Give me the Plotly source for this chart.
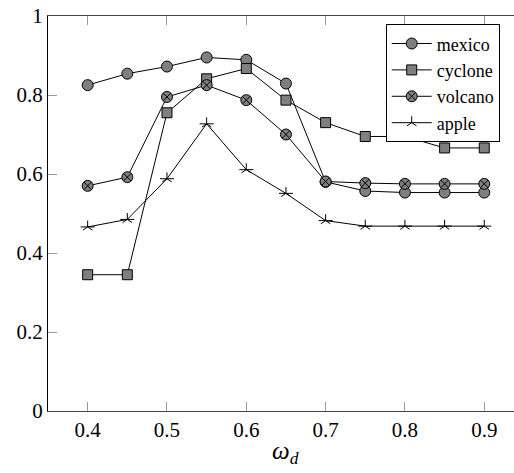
import plotly.graph_objects as go

omega = [0.4, 0.45, 0.5, 0.55, 0.6, 0.65, 0.7, 0.75, 0.8, 0.85, 0.9]
mexico = [0.825, 0.854, 0.872, 0.895, 0.889, 0.829, 0.58, 0.557, 0.553, 0.553, 0.553]
cyclone = [0.345, 0.345, 0.755, 0.841, 0.867, 0.787, 0.730, 0.695, 0.695, 0.666, 0.666]
volcano = [0.570, 0.592, 0.795, 0.825, 0.787, 0.700, 0.581, 0.577, 0.575, 0.575, 0.575]
apple = [0.466, 0.485, 0.588, 0.727, 0.611, 0.551, 0.482, 0.468, 0.468, 0.468, 0.468]

x_ticks = [0.4, 0.5, 0.6, 0.7, 0.8, 0.9]
x_labels = ["0.4", "0.5", "0.6", "0.7", "0.8", "0.9"]
y_ticks = [0, 0.2, 0.4, 0.6, 0.8, 1]
y_labels = ["0", "0.2", "0.4", "0.6", "0.8", "1"]

FONT = "Liberation Serif"
GRAY = "#7f7f7f"

fig = go.Figure()

fig.add_trace(go.Scatter(x=omega, y=mexico, name="mexico", mode="lines+markers",
                         line=dict(color="black", width=1),
                         marker=dict(symbol="circle", size=11, color=GRAY,
                                     line=dict(color="black", width=1))))
fig.add_trace(go.Scatter(x=omega, y=cyclone, name="cyclone", mode="lines+markers",
                         line=dict(color="black", width=1),
                         marker=dict(symbol="square", size=10, color=GRAY,
                                     line=dict(color="black", width=1))))
fig.add_trace(go.Scatter(x=omega, y=volcano, name="volcano", mode="lines+markers",
                         line=dict(color="black", width=1),
                         marker=dict(symbol="circle-x", size=11, color=GRAY,
                                     line=dict(color="black", width=1))))
fig.add_trace(go.Scatter(x=omega, y=apple, name="apple", mode="lines+markers",
                         line=dict(color="black", width=1),
                         marker=dict(symbol="y-up-open", size=8, color="black",
                                     line=dict(color="black", width=1))))
fig.add_trace(go.Scatter(x=omega, y=apple, mode="markers", showlegend=False,
                         hoverinfo="skip",
                         marker=dict(symbol="line-ew-open", size=10, color="black",
                                     line=dict(color="black", width=1))))

fig.add_annotation(x=0.65, xref="x", y=-0.062, yref="paper", yanchor="top",
                   text="<i>ω<sub>d</sub></i>", showarrow=False,
                   font=dict(family=FONT, size=25, color="black"))

fig.update_layout(
    width=514, height=473,
    margin=dict(l=48, r=0, t=16, b=62),
    paper_bgcolor="white", plot_bgcolor="white",
    font=dict(family=FONT, size=16, color="black"),
    showlegend=True,
    legend=dict(x=0.7247, y=0.979, xanchor="left", yanchor="top",
                bgcolor="white", bordercolor="black", borderwidth=1,
                font=dict(family=FONT, size=18, color="black"),
                tracegroupgap=0, itemwidth=40),
    xaxis=dict(range=[0.35, 0.9375], tickvals=x_ticks, ticktext=x_labels,
               ticks="inside", ticklen=9, tickcolor="#999", tickwidth=1,
               showline=True, linecolor="#444", linewidth=1, mirror="ticks",
               showgrid=False, zeroline=False,
               tickfont=dict(family=FONT, size=21, color="black")),
    yaxis=dict(range=[0, 1], tickvals=y_ticks, ticktext=y_labels,
               ticks="inside", ticklen=9, tickcolor="#999", tickwidth=1,
               showline=True, linecolor="black", linewidth=1,
               showgrid=False, zeroline=False,
               tickfont=dict(family=FONT, size=21, color="black")),
)

fig.write_html("out.html", config={"displayModeBar": False},
               post_script="document.body.style.margin='0';document.body.style.padding='0';")
